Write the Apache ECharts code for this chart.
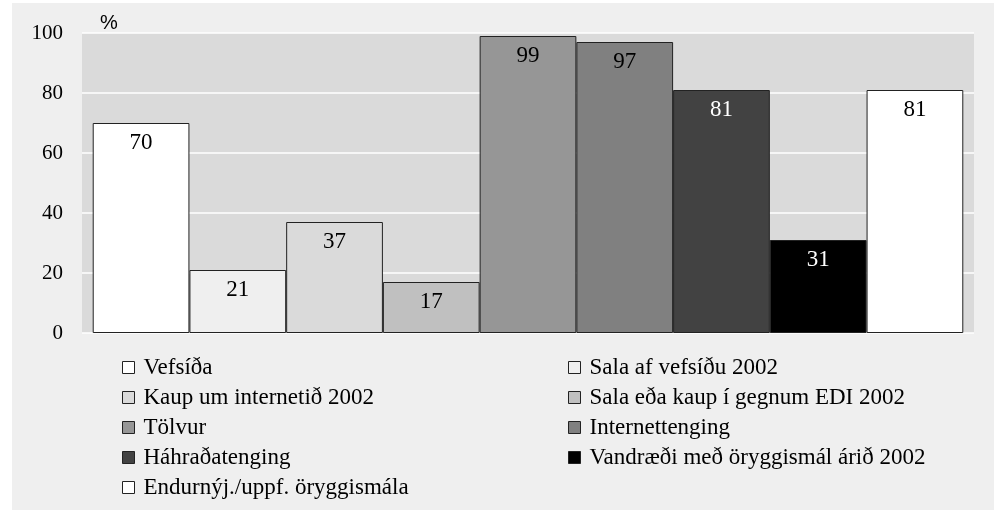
<!DOCTYPE html>
<html>
<head>
<meta charset="utf-8">
<script src="https://cdn.jsdelivr.net/npm/echarts@6/dist/echarts.min.js"></script>
<style>
  html, body { margin: 0; padding: 0; background: #fff; }
  #main { width: 994px; height: 510px; }
</style>
</head>
<body>
<div id="main"></div>
<script>
// data
var names = ["Vefsíða", "Sala af vefsíðu 2002", "Kaup um internetið 2002", "Sala eða kaup í gegnum EDI 2002",
  "Tölvur", "Internettenging", "Háhraðatenging", "Vandræði með öryggismál árið 2002", "Endurnýj./uppf. öryggismála"];
var values = [70, 21, 37, 17, 99, 97, 81, 31, 81];
var colors = ["#ffffff", "#efefef", "#dadada", "#c0c0c0", "#969696", "#808080", "#424242", "#000000", "#ffffff"];
var labelColors = ["#000", "#000", "#000", "#000", "#000", "#000", "#fff", "#fff", "#000"];
var yTicks = [0, 20, 40, 60, 80, 100];

var serif = "'Liberation Serif', 'Times New Roman', serif";

var series = names.map(function (n, i) {
  return {
    name: n,
    type: "bar",
    data: [values[i]],
    barGap: "0%",
    barCategoryGap: "2.4%",
    itemStyle: { color: colors[i], borderColor: "#222", borderWidth: 1 },
    label: {
      show: true,
      position: "insideTop",
      distance: 8,
      color: labelColors[i],
      fontFamily: serif,
      fontSize: 23
    }
  };
});

var legendStyle = {
  orient: "vertical",
  icon: "rect",
  padding: 0,
  itemWidth: 12,
  itemHeight: 12,
  itemGap: 7,
  itemStyle: { borderColor: "#222", borderWidth: 1 },
  textStyle: { fontFamily: serif, fontSize: 23, lineHeight: 23, color: "#000", padding: [0, 0, 0, 4] },
  selectedMode: false
};

var chart = echarts.init(document.getElementById("main"));
chart.setOption({
  backgroundColor: "#fff",
  animation: false,
  graphic: [{
    type: "rect", z: -10, silent: true,
    shape: { x: 12, y: 3, width: 982, height: 507 },
    style: { fill: "#efefef" }
  }],
  title: {
    text: "%", left: 95, top: 8,
    textStyle: { fontFamily: "'Liberation Sans', Arial, sans-serif", fontSize: 20, fontWeight: "normal", color: "#000" }
  },
  grid: {
    left: 82, right: 20, top: 33, bottom: 177,
    show: true, backgroundColor: "#dadada", borderWidth: 0
  },
  xAxis: {
    type: "category",
    data: [""],
    axisLine: { show: false },
    axisTick: { show: false },
    axisLabel: { show: false }
  },
  yAxis: {
    type: "value",
    min: yTicks[0], max: yTicks[yTicks.length - 1], interval: 20,
    axisLine: { show: false },
    axisTick: { show: false },
    axisLabel: { fontFamily: serif, fontSize: 21, color: "#000", margin: 19 },
    splitLine: { lineStyle: { color: "#ffffff", width: 1.5 } }
  },
  legend: [
    Object.assign({ left: 122, top: 356, data: [names[0], names[2], names[4], names[6], names[8]] }, legendStyle),
    Object.assign({ left: 568, top: 356, data: [names[1], names[3], names[5], names[7]] }, legendStyle)
  ],
  series: series
});
</script>
</body>
</html>
